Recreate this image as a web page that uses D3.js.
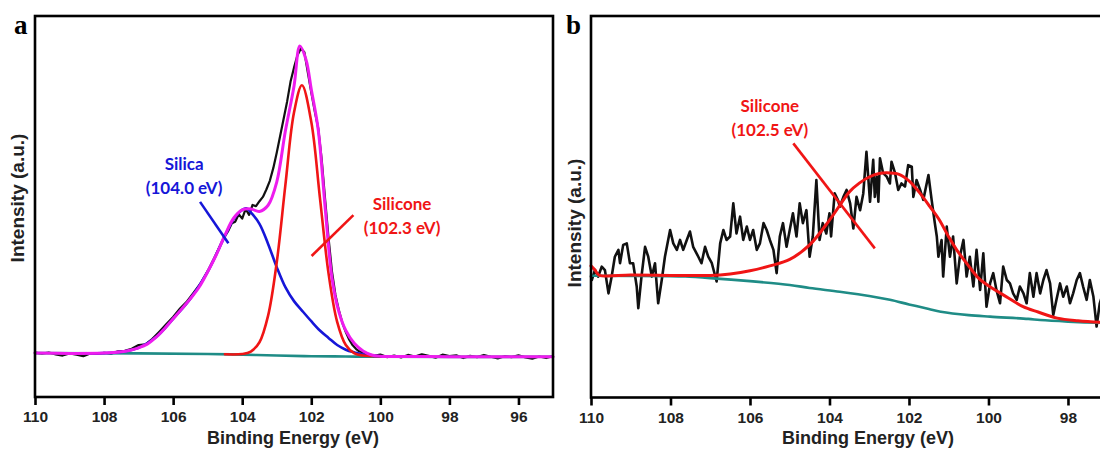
<!DOCTYPE html>
<html><head><meta charset="utf-8">
<script src="https://cdn.jsdelivr.net/npm/d3@7"></script>
<style>body{margin:0;background:#fff}svg{display:block}</style>
</head><body>
<svg id="chart" width="1100" height="452"></svg>
<script>
// ---------------- Panel a data (Binding energy eV / intensity a.u.) ----------------
const ticksA = [110,108,106,104,102,100,98,96];
const rawA_E = [110.0,109.8,109.6,109.4,109.2,109.0,108.8,108.6,108.4,108.2,108.0,107.8,107.6,107.4,107.2,107.0,106.8,106.6,106.4,106.2,106.0,105.8,105.6,105.4,105.2,105.0,104.8,104.6,104.5,104.4,104.3,104.2,104.1,104.0,103.9,103.8,103.7,103.6,103.5,103.4,103.3,103.2,103.1,103.0,102.9,102.8,102.7,102.6,102.5,102.4,102.3,102.2,102.1,102.0,101.9,101.8,101.7,101.6,101.5,101.4,101.3,101.2,101.1,101.0,100.9,100.8,100.7,100.6,100.4,100.2,100.0,99.8,99.6,99.4,99.2,99.0,98.8,98.6,98.4,98.2,98.0,97.8,97.6,97.4,97.2,97.0,96.8,96.6,96.4,96.2,96.0,95.8,95.6,95.4,95.2,95.0];
const rawA_I = [0.9,0.5,0.9,0.3,-0.1,0.6,0.2,-0.3,0.6,0.4,0.8,0.5,1.3,1.4,2.1,3.3,3.5,5.3,7.6,10.0,12.4,15.1,17.4,20.3,23.3,27.2,31.6,36.4,38.5,40.3,42.7,43.2,45.6,44.2,47.3,45.4,48.6,48.2,49.8,51.2,53.6,56.4,60.5,65.5,71.0,76.5,82.0,88.5,93.0,97.0,99.2,98.0,91.5,85.0,79.0,73.5,63.5,50.5,38.0,27.0,19.5,14.5,10.5,7.5,5.0,3.2,2.0,1.2,0.6,-0.2,0.2,-0.6,-0.1,-0.7,0.1,-0.4,0.3,-0.2,-0.8,0.2,-0.3,0.0,-0.9,-0.2,-0.6,0.1,-0.5,-1.0,-0.3,-0.6,0.0,-0.7,-1.1,-0.4,-0.9,-0.3];

const envA_E = [110,109,108,107.5,107.25,107,106.75,106.5,106.25,106,105.75,105.5,105.25,105,104.75,104.5,104.25,104,103.75,103.5,103.25,103,102.75,102.5,102.33,102.15,102,101.8,101.6,101.4,101.2,101,100.75,100.5,100.25,100,99,98,97,96,95];
const envA_I = [0.7,0.6,0.7,1.1,1.6,2.4,3.6,5.8,8.6,11.8,15.0,18.3,22.0,27.0,32.5,38.8,44.3,47.0,47.3,46.5,48.5,56.0,72.5,87.0,100.0,95.5,86.0,73.0,48.0,25.0,14.0,8.0,3.8,1.4,0.1,-0.3,-0.4,-0.5,-0.5,-0.5,-0.5];

const silicaA_E = [108.5,108,107.5,107,106.5,106,105.5,105,104.5,104.25,104,103.88,103.75,103.5,103.25,103,102.75,102.5,102.25,102,101.75,101.5,101.25,101,100.75,100.5,100,99.5];
const silicaA_I = [0.6,0.7,1.1,2.4,5.8,11.8,18.3,27.0,38.6,44.0,47.0,47.5,46.2,42.5,36.0,28.5,22.0,17.5,14.2,11.0,8.0,5.6,3.3,1.8,0.9,0.2,-0.3,-0.4];

const siliconeA_E = [104.5,104,103.75,103.5,103.25,103,102.75,102.5,102.27,102,101.75,101.5,101.25,101,100.75,100.5,100];
const siliconeA_I = [0.3,0.4,1.2,4.2,12.8,30.0,55.0,78.5,87.3,75.5,51.0,26.5,10.8,3.3,0.6,-0.1,-0.3];

const bgA_E = [110,107,105,104,103,102,101,100,95];
const bgA_I = [0.7,0.6,0.4,0.2,-0.1,-0.3,-0.4,-0.5,-0.5];

// ---------------- Panel b data ----------------
const ticksB = [110,108,106,104,102,100,98];
const rawB_E = [110.0,109.98,109.90,109.82,109.73,109.65,109.56,109.48,109.40,109.31,109.27,109.19,109.10,109.02,108.94,108.85,108.81,108.73,108.64,108.56,108.47,108.39,108.31,108.22,108.14,108.01,107.93,107.84,107.76,107.68,107.59,107.51,107.43,107.30,107.22,107.13,107.05,106.96,106.84,106.75,106.67,106.59,106.50,106.42,106.34,106.25,106.17,106.08,106.00,105.92,105.83,105.75,105.66,105.58,105.50,105.41,105.33,105.25,105.17,105.08,105.00,104.92,104.83,104.75,104.67,104.58,104.50,104.42,104.33,104.25,104.17,104.08,104.00,103.96,103.87,103.79,103.74,103.65,103.57,103.48,103.40,103.32,103.23,103.15,103.07,103.02,102.98,102.90,102.86,102.81,102.77,102.73,102.65,102.56,102.48,102.44,102.35,102.27,102.19,102.10,102.02,101.93,101.89,101.81,101.72,101.64,101.51,101.43,101.35,101.30,101.26,101.18,101.14,101.05,100.97,100.89,100.80,100.72,100.63,100.55,100.47,100.38,100.30,100.21,100.13,100.05,99.96,99.88,99.80,99.71,99.63,99.54,99.46,99.38,99.29,99.21,99.12,99.04,98.96,98.87,98.79,98.70,98.62,98.54,98.45,98.37,98.29,98.20,98.12,98.03,97.95,97.87,97.78,97.70,97.62,97.53,97.45,97.36,97.28,97.20,97.10,97.00];
const rawB_I = [31.7,30.8,33.4,31.7,34.3,33.4,27.3,31.7,36.9,38.7,35.2,40.0,40.4,35.2,35.2,29.1,23.4,31.7,39.5,36.9,31.7,35.2,24.7,30.8,36.9,43.9,40.4,38.7,41.3,38.7,41.3,43.5,39.5,36.9,35.2,39.5,36.9,35.2,30.4,40.4,43.9,41.3,42.2,50.9,43.0,47.4,41.3,44.8,41.3,43.9,38.7,40.4,45.7,43.9,41.3,38.7,32.6,42.2,45.7,39.5,43.9,48.3,42.2,50.9,45.7,49.1,36.9,42.2,57.0,41.3,45.7,43.0,48.3,42.2,53.5,51.8,50.0,52.6,54.4,50.9,44.3,52.6,49.1,53.5,64.4,57.0,51.3,62.3,52.6,57.9,51.3,62.7,58.8,57.9,56.1,61.8,58.8,54.4,56.1,55.3,60.9,60.5,52.6,57.0,54.4,51.8,58.3,51.8,45.7,42.2,36.9,41.3,31.7,44.8,36.9,42.2,29.9,36.9,41.3,31.7,36.9,29.1,38.7,28.2,37.8,23.8,29.9,32.6,28.2,24.7,34.3,30.8,29.9,27.3,25.6,29.1,27.3,24.7,32.6,26.4,32.6,27.3,30.8,33.4,29.9,21.6,25.6,29.9,26.4,29.1,24.7,27.3,30.8,32.6,29.1,25.6,30.8,26.4,18.6,24.7,28.0,26.0];

const siliconeB_E = [110.0,109.9,109.8,109.0,108.0,107.0,106.5,106.0,105.5,105.0,104.5,104.0,103.7,103.5,103.25,103.0,102.75,102.56,102.25,102.0,101.75,101.47,101.25,101.0,100.8,100.5,100.25,99.96,99.5,99.13,98.75,98.27,97.75,97.18,96.5];
const siliconeB_I = [34.5,33.4,32.1,32.1,32.0,32.0,32.4,33.2,34.5,36.2,40.0,46.5,51.0,53.9,56.2,57.8,58.7,58.9,58.5,56.8,53.9,50.0,46.8,42.1,38.7,34.5,31.3,29.0,26.1,23.8,22.4,20.8,20.1,19.7,19.5];

const bgB_E = [110,108,107.63,107,106,105,104.5,103.74,103,102.48,102,101.5,101.2,100.5,99.96,99,98.7,98,97.18,96.5];
const bgB_I = [31.9,31.8,31.7,31.3,30.5,29.5,28.7,27.7,26.6,25.6,24.4,23.2,22.5,21.6,21.2,20.6,20.3,19.9,19.6,19.5];

// ---------------- styles ----------------
const C = {black:'#111', magenta:'#ee1cee', blue:'#1616d8', red:'#f01515', teal:'#1f8c86'};
const tickFont = "'Liberation Sans', Arial, sans-serif";
const noteFont = "Lato, 'Open Sans', sans-serif";

const svg = d3.select('#chart');
const zip = (E, I) => E.map((e, i) => [e, I[i]]);

function panel(opt) {
  const {x, y, ticks} = opt;
  const [x0, x1] = x.range();
  const [y0, y1] = y.range();
  const g = svg.append('g');
  const smooth = d3.line().x(d => x(d[0])).y(d => y(d[1])).curve(d3.curveCatmullRom.alpha(0.5));
  const rough = d3.line().x(d => x(d[0])).y(d => y(d[1]));
  opt.series.forEach(s => {
    g.append('path').datum(zip(s.E, s.I))
      .attr('d', s.raw ? rough : smooth)
      .attr('fill', 'none').attr('stroke', s.color).attr('stroke-width', s.w)
      .attr('stroke-linejoin', 'round').attr('stroke-linecap', 'round');
  });
  // frame
  g.append('rect').attr('x', x0).attr('y', y1).attr('width', x1 - x0).attr('height', y0 - y1)
    .attr('fill', 'none').attr('stroke', '#000').attr('stroke-width', 2.6);
  // axis
  const ax = g.append('g').attr('transform', `translate(0,${y0})`)
    .call(d3.axisBottom(x).tickValues(ticks).tickSize(8).tickPadding(6).tickFormat(d3.format('d')));
  ax.select('.domain').remove();
  ax.selectAll('.tick line').attr('stroke', '#000').attr('stroke-width', 2.6);
  ax.selectAll('.tick text').attr('font-family', tickFont).attr('font-weight', 'bold')
    .attr('font-size', 15.5).attr('fill', '#222');
  // axis titles
  g.append('text').attr('x', opt.xTitleX).attr('y', 444).attr('text-anchor', 'middle')
    .attr('font-family', tickFont).attr('font-weight', 'bold').attr('font-size', 18).attr('fill', '#222')
    .text('Binding Energy (eV)');
  g.append('text').attr('transform', `translate(${opt.yTitleX},${opt.yTitleY}) rotate(-90)`)
    .attr('text-anchor', 'middle')
    .attr('font-family', tickFont).attr('font-weight', 'bold').attr('font-size', 19).attr('fill', '#222')
    .text('Intensity (a.u.)');
  // panel letter
  g.append('text').attr('x', opt.letterX).attr('y', 34)
    .attr('font-family', "'Liberation Serif', 'Times New Roman', serif").attr('font-weight', 'bold')
    .attr('font-size', 27).attr('fill', '#000').text(opt.letter);
  // annotations
  opt.notes.forEach(n => {
    g.append('line').attr('x1', x(n.line[0])).attr('y1', y(n.line[1]))
      .attr('x2', x(n.line[2])).attr('y2', y(n.line[3]))
      .attr('stroke', n.color).attr('stroke-width', 2.6);
    n.text.forEach((t, i) => {
      g.append('text').attr('x', x(n.at[0])).attr('y', y(n.at[1]) + i * 24)
        .attr('text-anchor', 'middle').attr('font-family', noteFont).attr('font-weight', 'bold')
        .attr('font-size', 17).attr('fill', n.color).text(t);
    });
  });
}

const xA = d3.scaleLinear().domain([110, 95]).range([35, 553]);
const yA = d3.scaleLinear().domain([-13.5, 109.7]).range([397, 16]);
panel({
  x: xA, y: yA, ticks: ticksA, letter: 'a', letterX: 14,
  xTitleX: 293, yTitleX: 24, yTitleY: 198,
  series: [
    {E: rawA_E, I: rawA_I, color: C.black, w: 2.2, raw: true},
    {E: bgA_E, I: bgA_I, color: C.teal, w: 2.6},
    {E: silicaA_E, I: silicaA_I, color: C.blue, w: 2.6},
    {E: siliconeA_E, I: siliconeA_I, color: C.red, w: 2.6},
    {E: envA_E, I: envA_I, color: C.magenta, w: 3}
  ],
  notes: [
    {text: ['Silica', '(104.0 eV)'], at: [105.68, 59.8], line: [105.22, 49.6, 104.40, 36.2], color: C.blue},
    {text: ['Silicone', '(102.3 eV)'], at: [99.37, 46.9], line: [100.78, 45.3, 101.99, 32.1], color: C.red}
  ]
});

const xB = d3.scaleLinear().domain([110, 96.5]).range([591, 1127.6]);
const yB = d3.scaleLinear().domain([0, 100]).range([397.5, 16]);
panel({
  x: xB, y: yB, ticks: ticksB, letter: 'b', letterX: 566,
  xTitleX: 868, yTitleX: 581, yTitleY: 223,
  series: [
    {E: rawB_E, I: rawB_I, color: C.black, w: 2.6, raw: true},
    {E: bgB_E, I: bgB_I, color: C.teal, w: 2.6},
    {E: siliconeB_E, I: siliconeB_I, color: C.red, w: 3}
  ],
  notes: [
    {text: ['Silicone', '(102.5 eV)'], at: [105.50, 74.8], line: [104.91, 66.6, 102.86, 39.1], color: C.red}
  ]
});
</script>
</body></html>
